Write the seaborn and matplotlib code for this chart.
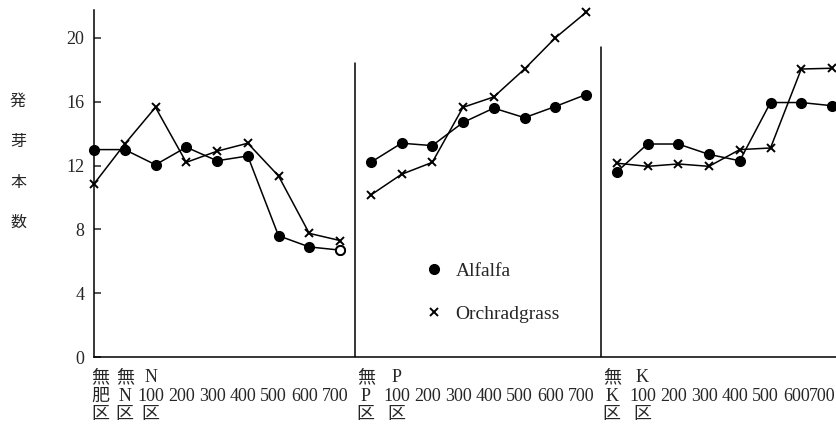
import matplotlib
matplotlib.use("Agg")
import matplotlib.pyplot as plt
from matplotlib.lines import Line2D
from matplotlib.transforms import ScaledTranslation
import pandas as pd
import seaborn as sns

# Treatment labels (three text rows under each point) for the N, P and K series
n_labels = ["無\n肥\n区", "無\nN\n区", "N\n100\n区", "\n200\n", "\n300\n",
            "\n400\n", "\n500\n", "\n600\n", "\n700\n"]
p_labels = ["無\nP\n区", "P\n100\n区", "\n200\n", "\n300\n", "\n400\n",
            "\n500\n", "\n600\n", "\n700\n"]
k_labels = ["無\nK\n区", "K\n100\n区", "\n200\n", "\n300\n", "\n400\n",
            "\n500\n", "\n600\n", "\n700\n"]

# Germinated seedlings per treatment
alfalfa_n = [13.0, 13.0, 12.05, 13.15, 12.3, 12.6, 7.6, 6.9, 6.7]
orchard_n = [10.85, 13.35, 15.65, 12.2, 12.9, 13.4, 11.35, 7.75, 7.3]
alfalfa_p = [12.2, 13.4, 13.25, 14.7, 15.6, 15.0, 15.7, 16.45]
orchard_p = [10.15, 11.45, 12.2, 15.65, 16.3, 18.05, 20.0, 21.6]
alfalfa_k = [11.6, 13.35, 13.35, 12.7, 12.3, 15.95, 15.95, 15.75]
orchard_k = [12.15, 11.95, 12.1, 11.95, 13.0, 13.1, 18.05, 18.1]

y_ticks = [0, 4, 8, 12, 16, 20]
y_title = "発\n芽\n本\n数"
crops = ["Alfalfa", "Orchradgrass"]

panels = [(n_labels, alfalfa_n, orchard_n),
          (p_labels, alfalfa_p, orchard_p),
          (k_labels, alfalfa_k, orchard_k)]

rows = []
pos = 0
for panel, (labels, alf, orc) in enumerate(panels):
    for lab, a, o in zip(labels, alf, orc):
        rows.append(dict(panel=panel, pos=pos, label=lab, crop=crops[0], value=a))
        rows.append(dict(panel=panel, pos=pos, label=lab, crop=crops[1], value=o))
        pos += 1
df = pd.DataFrame(rows)

sns.set_theme(style="white")
plt.rcParams["font.family"] = ["Liberation Serif", "Noto Sans CJK JP", "DejaVu Sans"]

fig = plt.figure(figsize=(8.36, 4.33), dpi=100)
ax = fig.add_axes([94 / 836, 76 / 433, 742 / 836, 347 / 433])

alf_df = df[df.crop == crops[0]]
orc_df = df[df.crop == crops[1]]

sns.lineplot(data=alf_df, x="pos", y="value", units="panel", estimator=None,
             color="black", marker="o", markersize=7, markeredgecolor="black",
             markeredgewidth=1.0, linewidth=1.1, ax=ax, clip_on=False, zorder=4)
sns.lineplot(data=orc_df, x="pos", y="value", units="panel", estimator=None,
             color="black", marker="x", markersize=5.5, markeredgecolor="black",
             markeredgewidth=1.4, linewidth=1.1, ax=ax, clip_on=False, zorder=3)

# last alfalfa point of the N series drawn as an open circle
last_n = alf_df[alf_df.panel == 0].iloc[-1]
ax.plot(last_n["pos"], last_n["value"], marker="o", ms=6.5, mfc="white",
        mec="black", mew=1.3, zorder=6, clip_on=False)

# vertical separators between the N, P and K series
ticks = df.drop_duplicates("pos")
ends = ticks.groupby("panel")["pos"].agg(["min", "max"])
ymax_top = 21.75
sep_heights = [18.4, 19.45]
for i, h in enumerate(sep_heights):
    xsep = (ends.loc[i, "max"] + ends.loc[i + 1, "min"]) / 2
    ax.axvline(xsep, ymin=0, ymax=h / ymax_top, color="black", lw=1.1)

ax.set_xlim(0, 24.13)
ax.set_ylim(0, ymax_top)
ax.set_xticks(ticks["pos"], ticks["label"])
ax.set_yticks(y_ticks)
ax.tick_params(axis="x", length=0, pad=9, labelsize=13)
ax.tick_params(axis="y", direction="in", length=5, width=1.1, pad=7,
               labelsize=13, left=True)

# nudge the treatment labels (in pixels): the first one sits right of the axis,
# the rest a little left of their points
n_lab = len(ticks)
for k, lab in enumerate(ax.get_xticklabels()):
    lab.set_linespacing(1.08)
    if k == 0:
        dx = 6
    elif k == 1:
        dx = 0
    elif k == n_lab - 1:
        dx = -10
    else:
        dx = -5
    lab.set_transform(lab.get_transform()
                      + ScaledTranslation(dx / fig.dpi, 0, fig.dpi_scale_trans))

ax.set_xlabel("")
ax.set_ylabel("")
for side in ["top", "right"]:
    ax.spines[side].set_visible(False)
for side in ["left", "bottom"]:
    ax.spines[side].set_color("black")
    ax.spines[side].set_linewidth(1.1)

fig.text(18 / 836, 1 - 162 / 433, y_title, ha="center", va="center",
         fontsize=11.5, linespacing=2.8, family=["Noto Sans CJK JP"])

handles = [Line2D([], [], ls="none", marker="o", ms=7, mfc="black", mec="black"),
           Line2D([], [], ls="none", marker="x", ms=6, mec="black", mew=1.4)]
ax.legend(handles, crops, loc="upper left", bbox_to_anchor=(0.435, 0.295),
          frameon=False, fontsize=14, handletextpad=0.6, labelspacing=1.3,
          handlelength=1.0, borderaxespad=0)

fig.savefig("out.png", dpi=100)
